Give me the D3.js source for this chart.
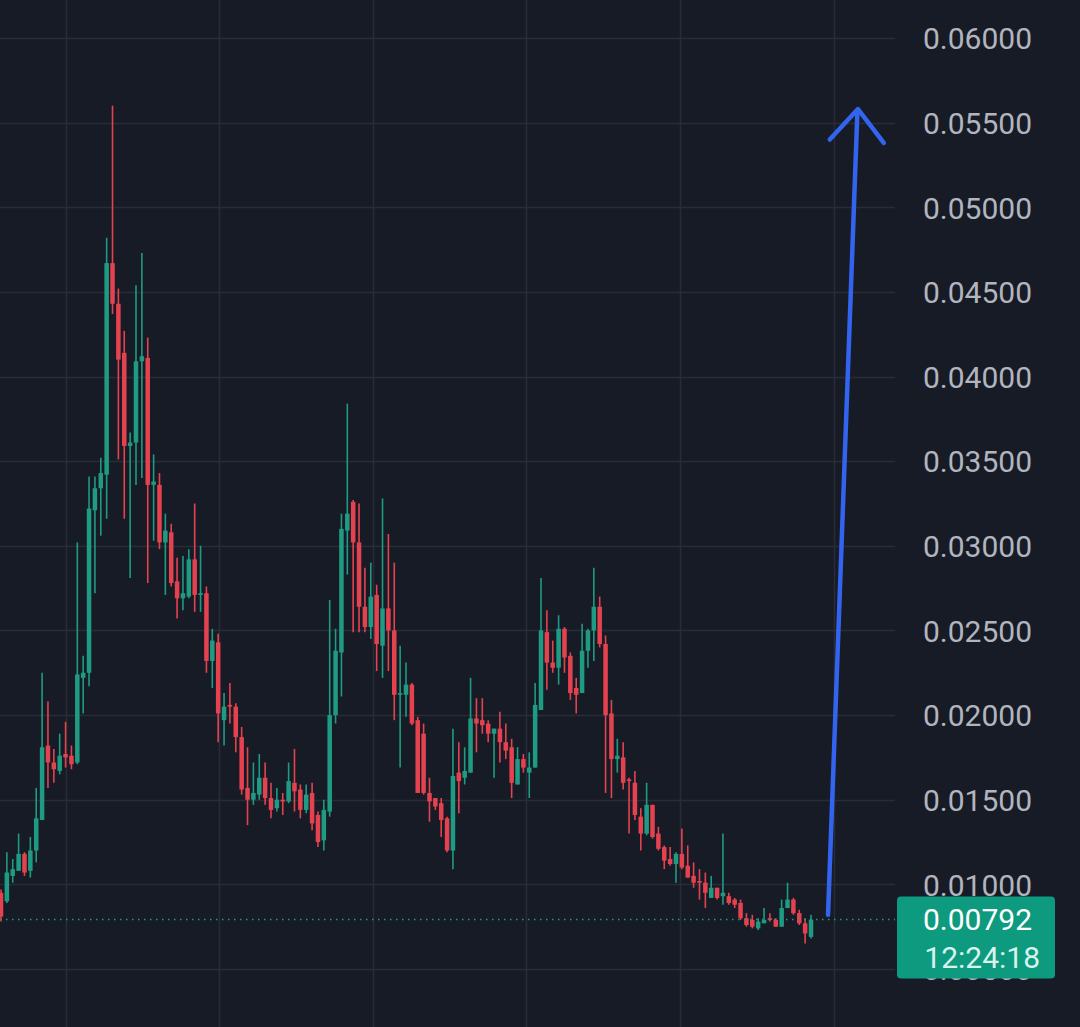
<!DOCTYPE html>
<html lang="en">
<head>
<meta charset="UTF-8">
<title>Candles</title>
<script src="https://d3js.org/d3.v7.min.js"></script>
<style>
  html, body { margin: 0; padding: 0; background: #171b26; overflow: hidden; }
  svg { display: block; }
</style>
</head>
<body>
<script>
// OHLC, one candle per index
const opens  = [0.0095,0.0090,0.0105,0.0108,0.0118,0.0108,0.0120,0.0138,0.0182,0.0172,0.0167,0.0177,0.0176,0.0172,0.0222,0.0225,0.0321,0.0334,0.0342,0.0467,
                0.0443,0.0414,0.0359,0.0361,0.0409,0.0411,0.0336,0.0336,0.0302,0.0308,0.0279,0.0269,0.0270,0.0292,0.0271,0.0272,0.0232,0.0243,0.0197,0.0206,
                0.0205,0.0187,0.0157,0.0150,0.0153,0.0163,0.0151,0.0145,0.0150,0.0149,0.0160,0.0156,0.0144,0.0154,0.0141,0.0126,0.0143,0.0200,0.0237,0.0309,
                0.0326,0.0302,0.0264,0.0252,0.0271,0.0241,0.0263,0.0250,0.0212,0.0212,0.0218,0.0197,0.0189,0.0154,0.0151,0.0148,0.0139,0.0120,0.0166,0.0163,
                0.0166,0.0198,0.0197,0.0195,0.0189,0.0192,0.0184,0.0181,0.0159,0.0174,0.0166,0.0169,0.0203,0.0249,0.0231,0.0228,0.0251,0.0235,0.0216,0.0213,
                0.0238,0.0250,0.0264,0.0242,0.0201,0.0174,0.0175,0.0162,0.0160,0.0140,0.0130,0.0147,0.0130,0.0122,0.0115,0.0112,0.0118,0.0111,0.0105,0.0102,
                0.0101,0.0092,0.0098,0.0093,0.0093,0.0091,0.0089,0.0080,0.0079,0.0074,0.0077,0.0080,0.0079,0.0075,0.0086,0.0091,0.0083,0.0077,0.0069];
const highs  = [0.0097,0.0119,0.0115,0.0130,0.0119,0.0128,0.0157,0.0225,0.0208,0.0180,0.0189,0.0196,0.0182,0.0302,0.0235,0.0341,0.0341,0.0352,0.0482,0.0560,
                0.0452,0.0427,0.0367,0.0454,0.0473,0.0423,0.0354,0.0343,0.0319,0.0313,0.0293,0.0294,0.0298,0.0325,0.0300,0.0276,0.0251,0.0248,0.0213,0.0219,
                0.0207,0.0193,0.0181,0.0172,0.0177,0.0172,0.0160,0.0157,0.0154,0.0172,0.0180,0.0159,0.0159,0.0160,0.0143,0.0150,0.0268,0.0251,0.0319,0.0384,
                0.0327,0.0325,0.0287,0.0290,0.0277,0.0328,0.0307,0.0290,0.0241,0.0231,0.0219,0.0199,0.0195,0.0163,0.0151,0.0151,0.0140,0.0192,0.0184,0.0181,
                0.0222,0.0210,0.0210,0.0197,0.0192,0.0202,0.0195,0.0186,0.0181,0.0177,0.0178,0.0219,0.0281,0.0262,0.0244,0.0259,0.0252,0.0237,0.0222,0.0254,
                0.0251,0.0287,0.0270,0.0247,0.0209,0.0186,0.0184,0.0163,0.0167,0.0145,0.0160,0.0147,0.0134,0.0123,0.0122,0.0119,0.0133,0.0123,0.0113,0.0109,
                0.0107,0.0105,0.0098,0.0130,0.0095,0.0092,0.0091,0.0083,0.0082,0.0080,0.0086,0.0083,0.0080,0.0091,0.0101,0.0092,0.0085,0.0080,0.0082];
const lows   = [0.0078,0.0089,0.0101,0.0108,0.0105,0.0104,0.0113,0.0138,0.0157,0.0160,0.0165,0.0169,0.0168,0.0171,0.0201,0.0217,0.0272,0.0306,0.0316,0.0437,
                0.0351,0.0316,0.0281,0.0336,0.0340,0.0278,0.0303,0.0298,0.0271,0.0276,0.0257,0.0262,0.0269,0.0261,0.0261,0.0225,0.0216,0.0184,0.0182,0.0195,
                0.0178,0.0153,0.0135,0.0147,0.0150,0.0147,0.0139,0.0143,0.0141,0.0148,0.0143,0.0139,0.0142,0.0132,0.0122,0.0120,0.0140,0.0195,0.0211,0.0283,
                0.0249,0.0249,0.0249,0.0245,0.0226,0.0222,0.0226,0.0197,0.0169,0.0199,0.0194,0.0154,0.0153,0.0137,0.0144,0.0128,0.0119,0.0109,0.0142,0.0159,
                0.0166,0.0178,0.0189,0.0184,0.0163,0.0172,0.0174,0.0151,0.0159,0.0166,0.0151,0.0169,0.0203,0.0215,0.0225,0.0218,0.0225,0.0209,0.0201,0.0213,
                0.0228,0.0232,0.0240,0.0154,0.0151,0.0166,0.0156,0.0130,0.0138,0.0120,0.0129,0.0127,0.0120,0.0109,0.0111,0.0101,0.0109,0.0104,0.0098,0.0091,
                0.0086,0.0092,0.0091,0.0088,0.0088,0.0086,0.0079,0.0075,0.0074,0.0073,0.0077,0.0078,0.0075,0.0075,0.0086,0.0082,0.0076,0.0065,0.0068];
const closes = [0.0081,0.0107,0.0109,0.0118,0.0107,0.0120,0.0139,0.0181,0.0172,0.0168,0.0176,0.0175,0.0171,0.0224,0.0225,0.0322,0.0334,0.0343,0.0467,0.0443,
                0.0410,0.0359,0.0361,0.0409,0.0412,0.0336,0.0338,0.0302,0.0309,0.0278,0.0269,0.0272,0.0292,0.0271,0.0272,0.0232,0.0244,0.0201,0.0205,0.0205,
                0.0187,0.0156,0.0150,0.0154,0.0163,0.0151,0.0144,0.0150,0.0149,0.0161,0.0155,0.0144,0.0153,0.0136,0.0125,0.0144,0.0200,0.0238,0.0310,0.0319,
                0.0302,0.0264,0.0252,0.0270,0.0242,0.0263,0.0250,0.0212,0.0213,0.0218,0.0195,0.0154,0.0154,0.0149,0.0146,0.0138,0.0120,0.0164,0.0161,0.0167,
                0.0198,0.0195,0.0194,0.0189,0.0192,0.0184,0.0179,0.0160,0.0174,0.0169,0.0169,0.0206,0.0250,0.0231,0.0228,0.0251,0.0234,0.0213,0.0212,0.0238,
                0.0250,0.0264,0.0242,0.0200,0.0174,0.0176,0.0160,0.0161,0.0141,0.0130,0.0147,0.0128,0.0121,0.0114,0.0112,0.0118,0.0110,0.0104,0.0101,0.0101,
                0.0095,0.0098,0.0092,0.0095,0.0089,0.0088,0.0080,0.0076,0.0075,0.0078,0.0079,0.0079,0.0075,0.0086,0.0091,0.0083,0.0077,0.0071,0.00792];

const priceTicks = [0.005,0.010,0.015,0.020,0.025,0.030,0.035,0.040,0.045,0.050,0.055,0.060];
const timeTicks = [11.1, 37.1, 63.3, 89.5, 115.7, 141.9]; // vertical grid, in candle index units
const lastPrice = 0.00792;
const countdown = "12:24:18";
// hand-drawn arrow, in (candle index, price)
const arrowShaft = [[140.9, 0.0082], [145.9, 0.0556]];
const arrowHead  = [[141.2, 0.0540], [146.0, 0.0558], [150.4, 0.0538]];

const W = 1080, H = 1027;
const plotRight = 895;
const upColor = "#1f9b83", downColor = "#e5424f";

const svg = d3.select("body").append("svg")
    .attr("width", W)
    .attr("height", H);

svg.append("rect").attr("width", W).attr("height", H).attr("fill", "#171b26");

const x = d3.scaleLinear().domain([0, 138]).range([1, 811]);
const y = d3.scaleLinear().domain([0.005, 0.06]).range([969, 38]);

// grid
svg.append("g").selectAll("line").data(priceTicks).join("line")
    .attr("x1", 0).attr("x2", plotRight)
    .attr("y1", d => Math.round(y(d)) + 0.5).attr("y2", d => Math.round(y(d)) + 0.5)
    .attr("stroke", "#282c38").attr("stroke-width", 1.5);

svg.append("g").selectAll("line").data(timeTicks).join("line")
    .attr("x1", d => Math.round(x(d)) + 0.5).attr("x2", d => Math.round(x(d)) + 0.5)
    .attr("y1", 0).attr("y2", H)
    .attr("stroke", "#282c38").attr("stroke-width", 1.5);

// candles
const candles = d3.range(opens.length).map(i => ({
    i, o: opens[i], h: highs[i], l: lows[i], c: closes[i]
}));

const g = svg.append("g");
g.selectAll("line.wick").data(candles).join("line")
    .attr("class", "wick")
    .attr("x1", d => x(d.i)).attr("x2", d => x(d.i))
    .attr("y1", d => y(d.h)).attr("y2", d => y(d.l))
    .attr("stroke", d => d.c >= d.o ? upColor : downColor)
    .attr("stroke-width", 1.6);

g.selectAll("rect.body").data(candles).join("rect")
    .attr("class", "body")
    .attr("x", d => x(d.i) - 2.25)
    .attr("width", 4.5)
    .attr("y", d => y(Math.max(d.o, d.c)))
    .attr("height", d => Math.max(1.5, Math.abs(y(d.o) - y(d.c))))
    .attr("fill", d => d.c >= d.o ? upColor : downColor);

// last price dotted line
svg.append("line")
    .attr("x1", 0).attr("x2", plotRight)
    .attr("y1", y(lastPrice)).attr("y2", y(lastPrice))
    .attr("stroke", "#1f9b83").attr("stroke-width", 1.5)
    .attr("stroke-dasharray", "1.5,4.5");

// price axis on the right
const axis = d3.axisRight(y)
    .tickValues(priceTicks)
    .tickFormat(d3.format(".5f"))
    .tickSize(0)
    .tickPadding(0);

const ax = svg.append("g")
    .attr("transform", `translate(1032,0)`)
    .call(axis);
ax.select(".domain").remove();
ax.selectAll("text")
    .attr("text-anchor", "end")
    .attr("dy", "0.36em")
    .attr("fill", "#b2b5be")
    .style("font-family", "Roboto, 'Noto Sans', sans-serif")
    .style("font-size", "30px");

// arrow
const line = d3.line().x(d => x(d[0])).y(d => y(d[1]));
svg.append("path")
    .attr("d", line(arrowShaft))
    .attr("fill", "none").attr("stroke", "#3264f0")
    .attr("stroke-width", 4.5).attr("stroke-linecap", "round");
svg.append("path")
    .attr("d", line(arrowHead))
    .attr("fill", "none").attr("stroke", "#3264f0")
    .attr("stroke-width", 4.5).attr("stroke-linecap", "round").attr("stroke-linejoin", "round");

// last price label
const ly = y(lastPrice);
svg.append("rect")
    .attr("x", 897).attr("y", ly - 23)
    .attr("width", 158).attr("height", 82)
    .attr("rx", 4)
    .attr("fill", "#0e9a7e");
svg.append("text")
    .attr("x", 1032).attr("y", ly)
    .attr("dy", "0.36em")
    .attr("text-anchor", "end")
    .attr("fill", "#ffffff")
    .style("font-family", "Roboto, 'Noto Sans', sans-serif")
    .style("font-size", "30px")
    .text(d3.format(".5f")(lastPrice));
svg.append("text")
    .attr("x", 1040).attr("y", ly + 38)
    .attr("dy", "0.36em")
    .attr("text-anchor", "end")
    .attr("fill", "#d7f3ec")
    .style("font-family", "Roboto, 'Noto Sans', sans-serif")
    .style("font-size", "30px")
    .text(countdown);
</script>
</body>
</html>
